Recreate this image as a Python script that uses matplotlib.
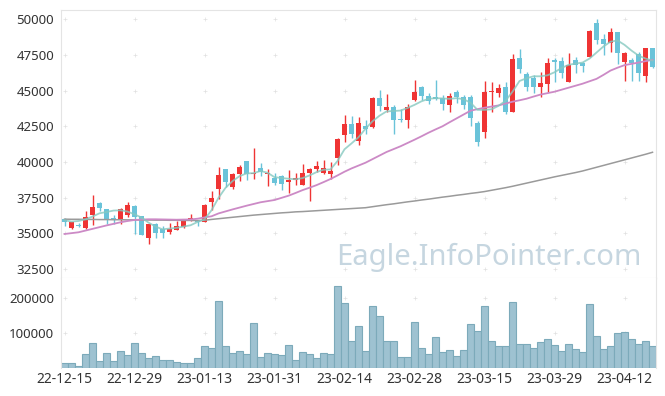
"""Candlestick chart with MA lines and volume panel (Eagle.InfoPointer style)."""
import numpy as np
import matplotlib
matplotlib.use("Agg")
import matplotlib.pyplot as plt

plt.rcParams["font.family"] = ["Noto Sans", "DejaVu Sans"]

# trading days (KRX calendar)
dates = (["22-12-%02d" % d for d in [15, 16, 19, 20, 21, 22, 23, 26, 27, 28, 29]]
         + ["23-01-%02d" % d for d in [2, 3, 4, 5, 6, 9, 10, 11, 12, 13,
                                       16, 17, 18, 19, 20, 25, 26, 27, 30, 31]]
         + ["23-02-%02d" % d for d in [1, 2, 3, 6, 7, 8, 9, 10, 13, 14,
                                       15, 16, 17, 20, 21, 22, 23, 24, 27, 28]]
         + ["23-03-%02d" % d for d in [2, 3, 6, 7, 8, 9, 10, 13, 14, 15,
                                       16, 17, 20, 21, 22, 23, 24, 27, 28, 29, 30, 31]]
         + ["23-04-%02d" % d for d in [3, 4, 5, 6, 7, 10, 11, 12, 13, 14, 17, 18]])

opens = [36000, 35350, 35600, 35350, 36310, 37150, 36690, 36050, 35990, 36310,
         36920, 36220, 34700, 35660, 35290, 35120, 35240, 35450, 35890, 35870,
         35820, 37230, 38080, 39480, 38240, 39150, 40050, 39130, 39550, 39150,
         38850, 38990, 38590, 38760, 38360, 39230, 39480, 39250, 39130, 40280,
         41900, 42650, 41500, 42490, 42420, 44490, 43640, 43850, 43000, 42950,
         44310, 45280, 44650, 44560, 44490, 44010, 44910, 44540, 44560, 42720,
         42120, 44890, 44850, 45220, 43510, 47310, 46140, 45860, 45220, 45460,
         47150, 47080, 45620, 47150, 46960, 47340, 49730, 48630, 48320, 49100,
         46980, 47150, 47570, 46050, 47970]
highs = [36050, 35830, 35750, 36570, 37690, 37200, 36700, 36270, 36760, 37200,
         36980, 36250, 35680, 35700, 35520, 35760, 35870, 35900, 36360, 35950,
         37050, 37970, 39670, 39500, 39250, 39770, 40100, 40960, 39950, 39480,
         39250, 39060, 39410, 39200, 39840, 39550, 40090, 40120, 40000, 41670,
         43290, 43240, 43180, 42930, 44540, 45020, 44770, 43960, 43690, 44080,
         45740, 45350, 44840, 45740, 44720, 44840, 45020, 44720, 44720, 42860,
         45650, 45600, 45460, 45620, 47550, 47900, 46330, 46090, 46330, 47270,
         47270, 47380, 47660, 47380, 47030, 49210, 50010, 48960, 49380, 49100,
         47690, 47270, 47730, 47970, 47990]
lows = [35550, 35300, 35480, 35330, 35590, 36590, 35640, 35630, 35660, 36170,
        34940, 34880, 34260, 34660, 34660, 34990, 35240, 35400, 35880, 35520,
        35800, 36640, 37440, 38260, 38120, 38660, 38710, 38780, 39010, 38310,
        38360, 38030, 37820, 38360, 38360, 37300, 39300, 39130, 38830, 39770,
        41430, 41670, 41200, 41960, 42400, 43570, 43500, 41960, 42770, 42350,
        44300, 44310, 44030, 44330, 43640, 43500, 44150, 43690, 42490, 41150,
        41660, 43530, 44520, 43390, 43500, 46210, 44970, 44800, 44520, 44920,
        45620, 45900, 45600, 46210, 46330, 47330, 48250, 47500, 47730, 46870,
        45690, 45690, 45690, 45580, 46560]
closes = [35800, 35800, 35520, 36130, 36850, 36780, 36030, 35980, 36690, 36970,
          36170, 34890, 35660, 35010, 35050, 35330, 35520, 35870, 36080, 35780,
          36990, 37500, 39060, 38590, 39180, 39670, 39180, 39250, 39300, 39200,
          38520, 38450, 38710, 38870, 39250, 39530, 39690, 39550, 39340, 41600,
          42650, 41950, 42720, 42300, 44490, 43920, 43870, 42930, 42950, 43870,
          44910, 44610, 44240, 44380, 44080, 44650, 44560, 43990, 43090, 41380,
          44910, 45000, 45180, 43510, 47220, 46510, 45220, 45220, 45500, 46910,
          47030, 46210, 46800, 46800, 46750, 49140, 48510, 48270, 49100, 47620,
          47620, 46910, 46210, 47970, 46630]

ma5 = [35920, 35830, 35870, 35990, 36180, 36410, 36500, 36600, 36620, 36530,
       36340, 36110, 35760, 35480, 35290, 35340, 35390, 35480, 35570, 35800,
       35980, 36620, 37490, 38190, 38660, 39010, 39200, 39220, 39370, 39250,
       38940, 38880, 38830, 38790, 38870, 39060, 39290, 39460, 39480, 40070,
       40890, 41300, 41730, 42330, 42850, 43240, 43540, 43570, 43600, 43780,
       44000, 44250, 44420, 44470, 44450, 44420, 44470, 44400, 44150, 43650,
       43650, 43690, 43930, 44280, 44920, 45670, 45860, 46000, 46000, 46070,
       46280, 46580, 46800, 46890, 46960, 47240, 47660, 48090, 48420, 48510,
       48200, 47800, 47450, 47240, 47100]
ma20 = [34960, 35020, 35080, 35200, 35320, 35440, 35560, 35670, 35780, 35870,
        35940, 35970, 35990, 35990, 35980, 35970, 35960, 35970, 35980, 36030,
        36120, 36200, 36400, 36540, 36680, 36810, 36940, 37060, 37180, 37260,
        37340, 37490, 37640, 37830, 38030, 38200, 38380, 38590, 38810, 39060,
        39320, 39550, 39750, 39950, 40200, 40450, 40700, 40900, 41100, 41330,
        41560, 41800, 42050, 42280, 42500, 42780, 43050, 43320, 43590, 43700,
        43800, 43880, 43960, 44090, 44220, 44320, 44430, 44580, 44720, 44820,
        44920, 45060, 45200, 45340, 45480, 45650, 45820, 46100, 46400, 46600,
        46780, 46870, 46960, 47060, 47150]
ma60 = [36000, 35990, 35990, 35980, 35980, 35970, 35970, 35960, 35960, 35950,
        35950, 35940, 35940, 35930, 35930, 35920, 35920, 35910, 35910, 35900,
        35920, 35980, 36030, 36080, 36130, 36180, 36230, 36280, 36320, 36360,
        36400, 36440, 36470, 36510, 36530, 36560, 36590, 36620, 36650, 36680,
        36710, 36740, 36770, 36800, 36870, 36940, 37010, 37070, 37140, 37210,
        37270, 37340, 37400, 37470, 37540, 37600, 37670, 37730, 37800, 37860,
        37930, 38020, 38110, 38200, 38300, 38410, 38520, 38630, 38740, 38850,
        38960, 39060, 39160, 39260, 39370, 39500, 39630, 39760, 39890, 40020,
        40150, 40280, 40410, 40540, 40680]

volume = [13300, 13300, 6700, 39000, 70500, 19000, 42000, 19000, 47600, 36200,
          70500, 42000, 27600, 35200, 21900, 21900, 16200, 13300, 13300, 27600,
          61900, 56200, 192300, 61900, 42000, 47600, 39000, 127600, 30500, 42000,
          39000, 36200, 64700, 21900, 44700, 39000, 27600, 42000, 39000, 233000,
          187000, 78000, 119000, 47600, 176000, 147600, 78000, 78000, 32400, 32400,
          130400, 56200, 39000, 87600, 44700, 52400, 35200, 50500, 124700, 104800,
          176100, 78000, 61900, 61900, 187500, 67600, 67600, 56200, 73300, 81900,
          64700, 47600, 67600, 53300, 44700, 181800, 90500, 53300, 61900, 99000,
          101900, 81900, 67600, 76200, 61900]

price_ticks = [32500, 35000, 37500, 40000, 42500, 45000, 47500, 50000]
vol_ticks = [100000, 200000]

UP, DOWN = "#ef3434", "#6ac3d9"
GRID = "#e4e4e4"
x = np.arange(len(dates))
o, h, l, c = map(np.array, (opens, highs, lows, closes))

fig = plt.figure(figsize=(6.65, 3.96), dpi=100)
ax = fig.add_axes([61 / 665, 1 - 278 / 396, 595 / 665, 268 / 396])
axv = fig.add_axes([61 / 665, 1 - 368 / 396, 595 / 665, 90 / 396], sharex=ax)

# candles
col = np.where(c >= o, UP, DOWN)
ax.vlines(x, l, h, colors=col, lw=1, zorder=2)
body = np.maximum(np.abs(c - o), 70)
ax.bar(x, body, bottom=np.minimum(o, c), width=0.72, color=col, lw=0, zorder=3)

# moving averages
ax.plot(x, ma60, color="#9a9a9a", lw=1.1, zorder=4)
ax.plot(x, ma20, color="#cc8ac6", lw=1.3, zorder=4)
ax.plot(x, ma5, color="#86c9c0", lw=1.3, alpha=0.8, zorder=4)

ax.text(0.975, 0.075, "Eagle.InfoPointer.com", transform=ax.transAxes,
        ha="right", va="center", fontsize=21, color="#c6d6e0", zorder=1)

# volume
axv.bar(x, volume, width=1.0, color="#9ec2d1", edgecolor="#7caaba", lw=0.8)

xt = x[::10]
ax.set_xlim(-0.5, len(x) - 0.5)
ax.set_ylim(31880, 50640)
axv.set_ylim(0, 257000)
ax.set_yticks(price_ticks)
axv.set_yticks(vol_ticks)
axv.set_xticks(xt)
axv.set_xticklabels([dates[i] for i in xt])
plt.setp(ax.get_xticklabels(), visible=False)

# "+" grid marks
for a, yt in ((ax, price_ticks), (axv, vol_ticks)):
    gx, gy = np.meshgrid(xt, yt)
    a.scatter(gx.ravel(), gy.ravel(), marker="+", s=12, lw=0.5, color="#e0e0e0", zorder=0)
    a.tick_params(length=0, labelsize=9.5, labelcolor="#333333", pad=5)
    for s in a.spines.values():
        s.set_color(GRID)
axv.tick_params(axis="x", pad=3, labelsize=10)
axv.spines["top"].set_visible(False)
axv.spines["bottom"].set_visible(False)

fig.savefig("out.png", dpi=100)
